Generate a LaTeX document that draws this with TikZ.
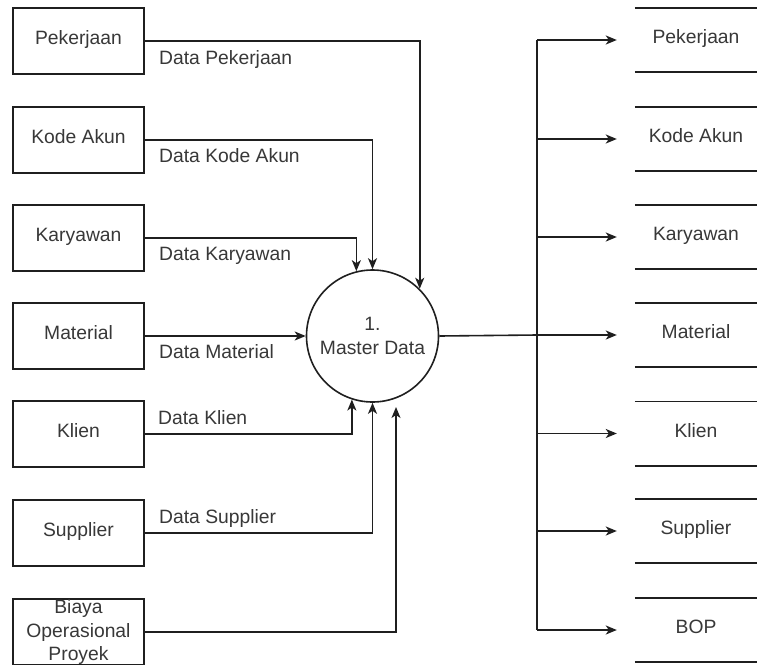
\documentclass[tikz,border=0pt]{standalone}
\usepackage{fontspec}
\setmainfont{Liberation Sans}
\usetikzlibrary{arrows.meta,calc}
\begin{document}
\begin{tikzpicture}[x=1pt,y=-1pt,
  every node/.style={font=\fontsize{19.3}{23.5}\selectfont, text=black!78},
  line/.style={line width=1.6pt, draw=black!88},
  arr/.style={line, -{Stealth[length=11pt,width=9pt,inset=3pt]}},
  ent/.style={line, minimum width=131pt, minimum height=66pt, inner sep=0pt},
  entt/.style={ent, text height=0.72em, text depth=0pt},
  store/.style={minimum width=122pt, minimum height=64pt, inner sep=0pt, text height=0.72em, text depth=0pt},
  proc/.style={line, circle, minimum size=132pt, inner sep=0pt, align=center},
  lbl/.style={anchor=base west, inner sep=0pt}
]
\useasboundingbox (0,0) rectangle (757,664);
\clip (0,0) rectangle (757,664);
\fill[white] (0,0) rectangle (757,664);

% external entities
\node[entt] (e1) at (78.5,41) {Pekerjaan};
\node[entt] (e2) at (78.5,140) {Kode Akun};
\node[entt] (e3) at (78.5,238) {Karyawan};
\node[entt] (e4) at (78.5,336) {Material};
\node[entt] (e5) at (78.5,434) {Klien};
\node[entt] (e6) at (78.5,533) {Supplier};
\node[ent, align=center] (e7) at (78.5,632) {Biaya\\Operasional\\Proyek};

% process
\node[proc] (p) at (372.5,336) {1.\\Master Data};

% data stores
\node[store] (s1) at (696,40) {Pekerjaan};
\node[store] (s2) at (696,139) {Kode Akun};
\node[store] (s3) at (696,237) {Karyawan};
\node[store] (s4) at (696,335) {Material};
\node[store] (s5) at (696,433.5) {Klien};
\node[store] (s6) at (696,531) {Supplier};
\node[store] (s7) at (696,630) {BOP};
\foreach \s in {s1,s2,s3,s4,s5,s6,s7}
  \draw[line] (\s.north west) -- (\s.north east) (\s.south west) -- (\s.south east);

% inputs
\coordinate (c7) at (396,407);
\draw[arr] (e1.east) -| (p.45);
\draw[arr] (e2.east) -| (p.north);
\draw[arr] (e3.east) -| (p.104);
\draw[arr] (e4.east) -- (p.west);
\draw[arr] (e5.east) -| (p.252);
\draw[arr] (e6.east) -| (p.south);
\draw[arr] (e7.east) -| (c7);

% labels
\node[lbl] (l1) at (159,64) {Data Pekerjaan};
\node[lbl] (l2) at (159,162) {Data Kode Akun};
\node[lbl] (l3) at (159,260) {Data Karyawan};
\node[lbl] (l4) at (159,358) {Data Material};
\node[lbl] (l5) at (158,424) {Data Klien};
\node[lbl] (l6) at (159,523) {Data Supplier};

% outputs
\foreach \i/\y in {1/40,2/139,3/237,4/335,5/433.5,6/531,7/630}
  \coordinate (t\i) at (537,\y);
\draw[line] (p.east) -- (t4);
\draw[line] (t1) -- (t7);
\foreach \i in {1,...,7}
  \draw[arr] (t\i) -- ([xshift=-18pt]s\i.west);
\end{tikzpicture}
\end{document}
